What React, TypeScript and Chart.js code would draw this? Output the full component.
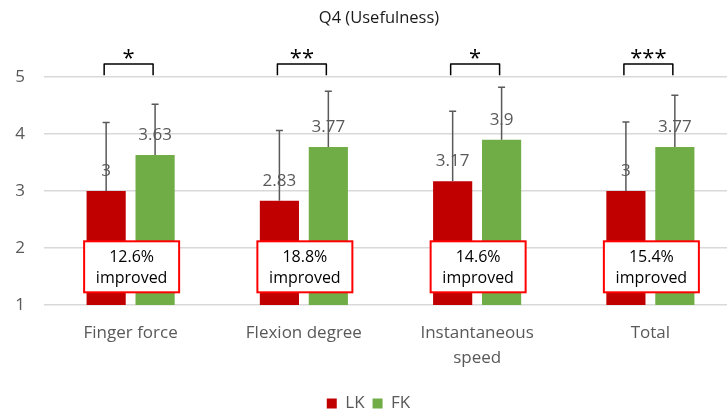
import React, { useEffect, useRef } from "react";
import { Chart, registerables } from "chart.js";
Chart.register(...registerables);

const categories = [["Finger force"], ["Flexion degree"], ["Instantaneous", "speed"], ["Total"]];
const lkValues = [3, 2.83, 3.17, 3];
const fkValues = [3.63, 3.77, 3.9, 3.77];
const lkErrors = [1.2, 1.23, 1.23, 1.21];
const fkErrors = [0.89, 0.98, 0.92, 0.91];
const improvements = ["12.6%", "18.8%", "14.6%", "15.4%"];
const significance = ["*", "**", "*", "***"];
const titleText = "Q4 (Usefulness)";

const FONT = "'Open Sans', 'Noto Sans', sans-serif";

const overlay = {
  id: "overlay",
  afterDatasetsDraw(chart: any) {
    const ctx = chart.ctx;
    const xs = chart.scales.x;
    const ys = chart.scales.y;
    const errs = [lkErrors, fkErrors];
    const vals = [lkValues, fkValues];
    ctx.save();
    // value labels
    ctx.font = `17px ${FONT}`;
    ctx.fillStyle = "#595959";
    ctx.textAlign = "center";
    ctx.textBaseline = "middle";
    for (let d = 0; d < 2; d++) {
      const meta = chart.getDatasetMeta(d);
      meta.data.forEach((el: any, i: number) => {
        ctx.fillText(String(vals[d][i]), el.x, el.y - 20);
      });
    }
    // error bars
    ctx.strokeStyle = "#595959";
    ctx.lineWidth = 1.5;
    for (let d = 0; d < 2; d++) {
      const meta = chart.getDatasetMeta(d);
      meta.data.forEach((el: any, i: number) => {
        const top = ys.getPixelForValue(vals[d][i] + errs[d][i]);
        ctx.beginPath();
        ctx.moveTo(el.x, el.y);
        ctx.lineTo(el.x, top);
        ctx.moveTo(el.x - 3.5, top);
        ctx.lineTo(el.x + 3.5, top);
        ctx.stroke();
      });
    }
    // improvement boxes
    categories.forEach((_c, i) => {
      const cx = xs.getPixelForValue(i) + 1;
      const cy = ys.getPixelForValue(1.67);
      const w = 95, h = 51;
      ctx.fillStyle = "#ffffff";
      ctx.fillRect(cx - w / 2, cy - h / 2, w, h);
      ctx.strokeStyle = "#ff0000";
      ctx.lineWidth = 2;
      ctx.strokeRect(cx - w / 2, cy - h / 2, w, h);
      ctx.fillStyle = "#000000";
      ctx.font = `16px ${FONT}`;
      ctx.fillText(improvements[i], cx, cy - 9);
      ctx.fillText("improved", cx, cy + 12);
    });
    // significance brackets
    const m0 = chart.getDatasetMeta(0);
    const m1 = chart.getDatasetMeta(1);
    ctx.strokeStyle = "#000000";
    ctx.lineWidth = 1.5;
    ctx.lineJoin = "round";
    categories.forEach((_c, i) => {
      const x1 = m0.data[i].x - 2;
      const x2 = m1.data[i].x - 2;
      const yt = ys.getPixelForValue(5.23);
      const yb = ys.getPixelForValue(5.03);
      ctx.beginPath();
      ctx.moveTo(x1, yb);
      ctx.lineTo(x1, yt);
      ctx.lineTo(x2, yt);
      ctx.lineTo(x2, yb);
      ctx.stroke();
      ctx.fillStyle = "#000000";
      ctx.font = `22px ${FONT}`;
      ctx.textBaseline = "alphabetic";
      ctx.fillText(significance[i], (x1 + x2) / 2, ys.getPixelForValue(5.21));
      ctx.textBaseline = "middle";
    });
    // title
    ctx.fillStyle = "#1a1a1a";
    ctx.font = `16.5px ${FONT}`;
    ctx.fillText(titleText, chart.width / 2, 18);
    ctx.restore();
  },
};

export default function App() {
  const ref = useRef<HTMLCanvasElement | null>(null);
  useEffect(() => {
    if (!ref.current) return;
    const chart = new Chart(ref.current, {
      type: "bar",
      data: {
        labels: categories as any,
        datasets: [
          { label: "LK", data: lkValues, backgroundColor: "#C00000", categoryPercentage: 0.565, barPercentage: 0.8 },
          { label: "FK", data: fkValues, backgroundColor: "#70AD47", categoryPercentage: 0.565, barPercentage: 0.8 },
        ],
      },
      options: {
        responsive: false,
        animation: false,
        layout: { padding: { left: 0, right: 21, top: 77, bottom: -12 } },
        plugins: {
          title: { display: false },
          tooltip: { enabled: false },
          legend: {
            position: "bottom",
            labels: {
              boxWidth: 10,
              boxHeight: 10,
              padding: 8,
              color: "#595959",
              font: { family: FONT, size: 17 },
            },
          },
        },
        scales: {
          x: {
            grid: { display: false },
            border: { display: false },
            ticks: {
              color: "#595959",
              padding: 8,
              maxRotation: 0,
              font: { family: FONT, size: 17, lineHeight: 1.45 },
            },
            afterFit: (s: any) => { s.height = 82; },
          },
          y: {
            min: 1,
            max: 5,
            grid: { color: "#d9d9d9", lineWidth: 1.5, drawTicks: false },
            border: { display: false },
            ticks: {
              stepSize: 1,
              color: "#595959",
              padding: 19,
              font: { family: FONT, size: 17 },
            },
            afterFit: (s: any) => { s.width = 44; },
          },
        },
      },
      plugins: [overlay],
    });
    return () => chart.destroy();
  }, []);
  return (
    <div style={{ position: "fixed", left: 0, top: 0, width: 727, height: 410, overflow: "hidden", background: "#fff" }}>
      <canvas ref={ref} width={758} height={410} style={{ width: 758, height: 410, display: "block" }} />
    </div>
  );
}
